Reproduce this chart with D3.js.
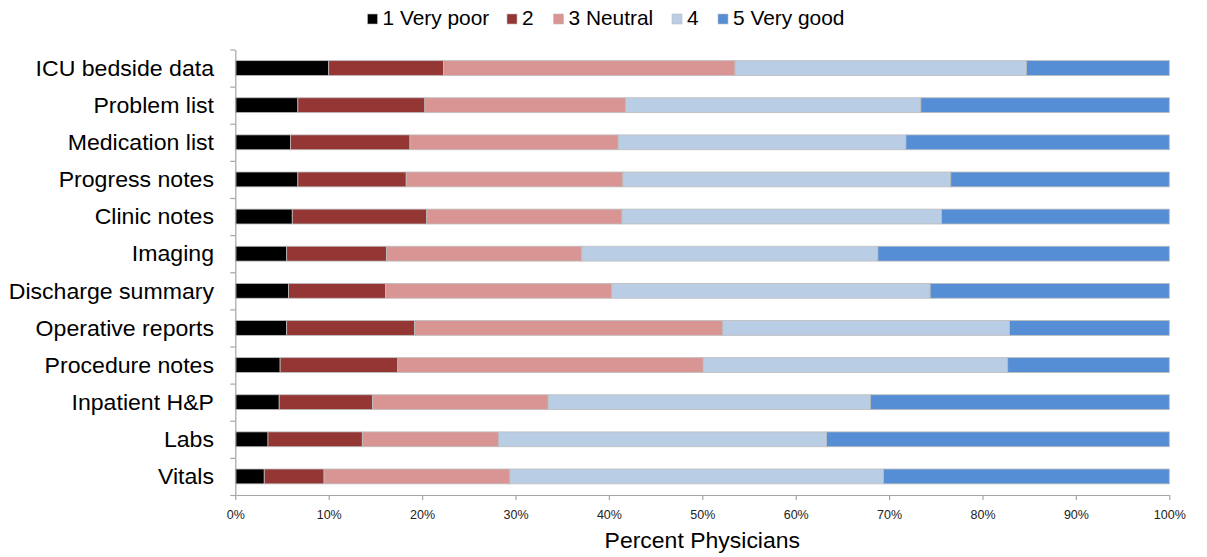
<!DOCTYPE html>
<html>
<head>
<meta charset="utf-8">
<script src="https://cdn.jsdelivr.net/npm/d3@7/dist/d3.min.js"></script>
<style>
  html, body { margin: 0; padding: 0; background: #fff; }
  svg { display: block; font-family: "Liberation Sans", Arial, sans-serif; }
</style>
</head>
<body>
<svg id="chart" width="1207" height="557"></svg>
<script>
// Documentation items, top to bottom
const categories = [
  "ICU bedside data", "Problem list", "Medication list", "Progress notes",
  "Clinic notes", "Imaging", "Discharge summary", "Operative reports",
  "Procedure notes", "Inpatient H&P", "Labs", "Vitals"
];

// Rating levels (legend order)
const ratings = ["1 Very poor", "2", "3 Neutral", "4", "5 Very good"];
const ratingColors = ["#000000", "#943634", "#d99594", "#b9cde5", "#558ed5"];

// Percent of physicians per rating, one array per rating, aligned with categories
const veryPoor = [10.0, 6.7, 5.9, 6.7, 6.1, 5.5, 5.7, 5.5, 4.8, 4.7, 3.5, 3.1];
const poor     = [12.3, 13.6, 12.8, 11.6, 14.4, 10.7, 10.4, 13.7, 12.6, 10.0, 10.1, 6.4];
const neutral  = [31.2, 21.5, 22.3, 23.2, 20.9, 20.9, 24.2, 33.0, 32.7, 18.8, 14.6, 19.9];
const good     = [31.2, 31.6, 30.8, 35.1, 34.2, 31.7, 34.1, 30.7, 32.6, 34.5, 35.1, 40.0];
const veryGood = [15.3, 26.6, 28.2, 23.4, 24.4, 31.2, 25.6, 17.1, 17.3, 32.0, 36.7, 30.6];

const xTicks = [0, 10, 20, 30, 40, 50, 60, 70, 80, 90, 100];
const xTitle = "Percent Physicians";

const seriesValues = [veryPoor, poor, neutral, good, veryGood];
const rows = categories.map((c, i) => {
  const r = { category: c };
  ratings.forEach((k, j) => { r[k] = seriesValues[j][i]; });
  return r;
});

const svg = d3.select("#chart");
const plotLeft = 235.3, plotRight = 1169.3, plotTop = 49.5, plotBottom = 495;
const textStretch = 1.045;   // slightly wide lettering

const x = d3.scaleLinear().domain([0, 100]).range([plotLeft, plotRight]);
const y = d3.scaleBand().domain(categories).range([plotTop, plotBottom])
  .paddingInner(0.6).paddingOuter(0.3);
const color = d3.scaleOrdinal().domain(ratings).range(ratingColors);

const stacked = d3.stack().keys(ratings)(rows);

// Bars
svg.append("g").selectAll("g")
  .data(stacked)
  .join("g")
  .attr("fill", d => color(d.key))
  .selectAll("rect")
  .data(d => d)
  .join("rect")
  .attr("x", d => x(d[0]))
  .attr("y", d => y(d.data.category))
  .attr("width", d => x(d[1]) - x(d[0]))
  .attr("height", y.bandwidth())
  .attr("stroke", "#bdbdbd")
  .attr("stroke-width", 0.8);

// Y axis with ticks between categories
const yIdx = d3.scaleLinear().domain([0, categories.length]).range([plotTop, plotBottom]);
const yAxis = svg.append("g")
  .attr("transform", `translate(${plotLeft},0)`)
  .call(d3.axisLeft(yIdx).tickValues(d3.range(categories.length + 1))
    .tickFormat("").tickSize(5).tickSizeOuter(0));
yAxis.selectAll("path, line").attr("stroke", "#a6a6a6").attr("stroke-width", 1.2);

// Category labels
svg.append("g").selectAll("g")
  .data(categories)
  .join("g")
  .attr("transform", d => `translate(214,${y(d) + y.bandwidth() / 2}) scale(1.05,1)`)
  .append("text")
  .attr("dy", "0.35em")
  .attr("text-anchor", "end")
  .attr("font-size", 22)
  .attr("fill", "#000")
  .text(d => d);

// X axis
const xAxis = svg.append("g")
  .attr("transform", `translate(0,${plotBottom})`)
  .call(d3.axisBottom(x).tickValues(xTicks).tickFormat(d => d + "%")
    .tickSize(5).tickSizeOuter(0).tickPadding(10));
xAxis.selectAll("path, line").attr("stroke", "#a6a6a6").attr("stroke-width", 1.2);
xAxis.selectAll("text").attr("font-size", 12.5).attr("fill", "#222")
  .attr("font-family", "'Liberation Sans', Arial, sans-serif");

svg.append("g")
  .attr("transform", `translate(${(plotLeft + plotRight) / 2},548) scale(${textStretch},1)`)
  .append("text")
  .attr("text-anchor", "middle")
  .attr("font-size", 22)
  .attr("fill", "#000")
  .text(xTitle);

// Legend
const legendX = [367.5, 507, 553.5, 672, 718];
const legend = svg.append("g").selectAll("g")
  .data(ratings)
  .join("g")
  .attr("transform", (d, i) => `translate(${legendX[i]},0)`);
legend.append("rect")
  .attr("x", 0).attr("y", 14)
  .attr("width", 10).attr("height", 10)
  .attr("fill", d => color(d))
  .attr("stroke", "#bdbdbd").attr("stroke-width", 0.6);
legend.append("g")
  .attr("transform", `translate(15,25) scale(${textStretch},1)`)
  .append("text")
  .attr("font-size", 20)
  .attr("fill", "#000")
  .text(d => d);
</script>
</body>
</html>
